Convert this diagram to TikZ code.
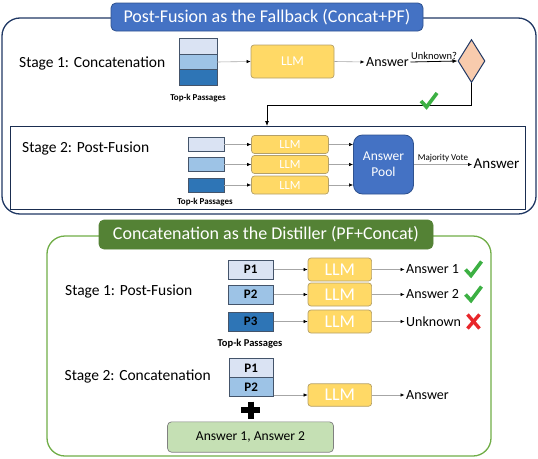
\documentclass[tikz,border=0pt]{standalone}
\usepackage{fontspec}
\setmainfont{Carlito}
\usetikzlibrary{positioning, shapes.geometric, arrows.meta}

\definecolor{navy}{HTML}{203864}
\definecolor{titleblue}{HTML}{4472C4}
\definecolor{bannerline}{HTML}{2F528F}
\definecolor{psgline}{HTML}{44546A}
\definecolor{psglight}{HTML}{DAE3F3}
\definecolor{psgmid}{HTML}{9DC3E6}
\definecolor{psgdark}{HTML}{2E75B6}
\definecolor{llmfill}{HTML}{FFD966}
\definecolor{llmline}{HTML}{B4A068}
\definecolor{peach}{HTML}{F8CBAD}
\definecolor{bannergreen}{HTML}{548235}
\definecolor{leafgreen}{HTML}{70AD47}
\definecolor{palegreen}{HTML}{C5E0B4}
\definecolor{checkgreen}{HTML}{3CB043}
\definecolor{crossred}{HTML}{E8262A}

\begin{document}
\begin{tikzpicture}[
    x=1pt, y=-1pt,
    frame/.style={draw=navy, line width=1.3pt, rounded corners=18pt, inner sep=0pt},
    banner/.style={draw=bannerline, fill=titleblue, text=white, line width=0.8pt, rounded corners=5pt, inner sep=0pt, font=\fontsize{18}{20}\selectfont},
    stagelbl/.style={anchor=west, inner sep=0pt, font=\fontsize{15.5}{18}\selectfont},
    psg/.style={draw=psgline, line width=0.7pt, inner sep=0pt, outer sep=0pt, minimum width=38pt, minimum height=15.5pt},
    llm/.style={draw=llmline, fill=llmfill, text=white, line width=0.7pt, rounded corners=3pt, inner sep=0pt},
    pool/.style={draw=bannerline, fill=titleblue, text=white, line width=0.8pt, rounded corners=9pt, inner sep=0pt, align=center, font=\fontsize{13.5}{16}\selectfont},
    ans/.style={anchor=west, inner sep=1.5pt, font=\fontsize{14}{16}\selectfont},
    small/.style={inner sep=0pt, font=\bfseries\fontsize{9}{10}\selectfont},
    arrow/.style={draw=gray!70, line width=0.6pt, -{Latex[length=4pt, width=3.5pt, black]}},
    blackarrow/.style={line width=0.8pt, -{Latex[length=5pt, width=4pt]}},
    okmark/.pic={\draw[checkgreen, line width=3.6pt] (-8,0) -- (-2.5,6) -- (8,-8);},
    nomark/.pic={\draw[crossred, line width=3.4pt] (-6,-7) -- (6,7) (-6,7) -- (6,-7);},
    addmark/.pic={\draw[black, line width=6pt] (-9.5,0) -- (9.5,0) (0,-8.5) -- (0,8.5);}
]
    \useasboundingbox (0,0) rectangle (538,458);

    % ==========================================
    % PART 1: Post-Fusion as the Fallback
    % ==========================================
    \begin{scope}[local bounding box=fallback_part]
        \node[frame, minimum width=534pt, minimum height=196pt] (fallback) at (269,116) {};
        \node[banner, minimum width=312pt, minimum height=28pt] (fb_title) at (267,17) {Post-Fusion as the Fallback (Concat+PF)};

        % --- Stage 1: concatenated passages into one LLM ---
        \node[stagelbl] (fb_s1) at (19,63) {Stage 1: Concatenation};
        \node[psg, fill=psglight] (tp1) at (198,46.5) {};
        \node[psg, fill=psgmid, below=0pt of tp1] (tp2) {};
        \node[psg, fill=psgdark, below=0pt of tp2] (tp3) {};
        \node[small] (tpk1) at (198,98) {Top-k Passages};

        \node[llm, minimum width=83pt, minimum height=33pt, font=\fontsize{13.5}{15}\selectfont] (t_llm) at (292.5,61.5) {LLM};
        \draw[arrow] (tp2.east) -- (t_llm.west);

        \node[ans] (t_ans) at (364.5,62) {Answer};
        \draw[arrow] (t_llm.east) -- (t_ans.west);

        % Unknown answer goes to the check
        \node[diamond, draw=navy, fill=peach, line width=1pt, minimum width=27pt, minimum height=43pt, inner sep=0pt] (dia) at (471.5,61) {};
        \draw[blackarrow] (t_ans.east) -- node[above, inner sep=1.5pt, font=\fontsize{10.5}{12}\selectfont] (unk) {Unknown?} (dia.west);

        % --- Fall back into Stage 2 ---
        \node[draw=navy!80!black, line width=0.9pt, minimum width=515pt, minimum height=83pt, inner sep=0pt] (pf_box) at (267.5,168) {};
        \coordinate (fb_turn) at (267,105);
        \draw[line width=0.8pt, -{Latex[length=5pt, width=4pt]}] (dia.south) |- (fb_turn) -- (fb_turn |- pf_box.north);
        \pic at (429,101) {okmark};

        % --- Stage 2: one LLM per passage ---
        \node[stagelbl] (fb_s2) at (22,148) {Stage 2: Post-Fusion};
        \node[pool, minimum width=60pt, minimum height=59pt] (pool) at (383.5,164.5) {Answer\\Pool};
        \foreach \y/\c [count=\i] in {144.5/psglight, 164.5/psgmid, 185/psgdark} {
            \node[psg, fill=\c, minimum width=36pt, minimum height=14pt] (pp\i) at (206,\y) {};
            \node[llm, minimum width=77pt, minimum height=18pt, font=\fontsize{12.5}{14}\selectfont] (pl\i) at (290,\y) {LLM};
            \draw[arrow] (pp\i) -- (pl\i);
            \draw[arrow] (pl\i.east) -- (pl\i.east -| pool.west);
        }
        \node[small] (tpk2) at (205,202.6) {Top-k Passages};

        \node[ans, font=\fontsize{15}{17}\selectfont] (p_ans) at (472,163.5) {Answer};
        \draw[arrow] (pool.east) -- node[above, inner sep=2pt, font=\fontsize{9}{10}\selectfont] (vote) {Majority Vote} (pool.east -| p_ans.west);
    \end{scope}

    % ==========================================
    % PART 2: Concatenation as the Distiller
    % ==========================================
    \begin{scope}[local bounding box=distill_part]
        \node[frame, draw=leafgreen, minimum width=444pt, minimum height=220pt] (distill) at (269,346) {};
        \node[banner, draw=bannergreen, fill=bannergreen, minimum width=334pt, minimum height=29pt] (d_title) at (266,234.5) {Concatenation as the Distiller (PF+Concat)};

        % --- Stage 1: each passage on its own ---
        \node[stagelbl] (d_s1) at (65,291) {Stage 1: Post-Fusion};
        \foreach \y/\c/\lbl [count=\i] in {269.5/psglight/Answer 1, 294.5/psgmid/Answer 2, 321.5/psgdark/Unknown} {
            \node[psg, fill=\c, minimum width=45.5pt, minimum height=19pt, font=\bfseries\fontsize{13}{15}\selectfont] (dp\i) at (250.75,\y) {P\i};
            \node[llm, minimum width=63.6pt, minimum height=23pt, font=\fontsize{18}{20}\selectfont] (dl\i) at (339.8,\y) {LLM};
            \node[ans] (da\i) at (404.5,\y) {\lbl};
            \draw[arrow] (dp\i) -- (dl\i);
            \draw[arrow] (dl\i) -- (da\i);
        }
        \pic at (473.5,269.5) {okmark};
        \pic at (473.5,294.5) {okmark};
        \pic at (473.5,321.5) {nomark};
        \node[small, font=\bfseries\fontsize{10.5}{12}\selectfont] (tpk3) at (250,343.7) {Top-k Passages};

        % --- Stage 2: kept passages plus their answers ---
        \node[stagelbl] (d_s2) at (64.5,376) {Stage 2: Concatenation};
        \node[psg, fill=psglight, minimum width=44.5pt, minimum height=19.8pt, font=\bfseries\fontsize{13}{15}\selectfont] (cp1) at (251.25,367.9) {P1};
        \node[psg, fill=psgmid, minimum width=44.5pt, minimum height=18.3pt, font=\bfseries\fontsize{13}{15}\selectfont, below=0pt of cp1] (cp2) {P2};
        \pic at (250.5,410) {addmark};
        \node[draw=gray, fill=palegreen, line width=0.7pt, rounded corners=4pt, minimum width=166pt, minimum height=30.3pt, font=\fontsize{13.6}{16}\selectfont] (memo) at (250.5,437) {Answer 1, Answer 2};

        \node[llm, minimum width=63.6pt, minimum height=22.5pt, font=\fontsize{18}{20}\selectfont] (c_llm) at (339.8,395) {LLM};
        \draw[arrow] (cp2.east |- c_llm.west) -- (c_llm.west);
        \node[ans] (c_ans) at (404.5,395) {Answer};
        \draw[arrow] (c_llm) -- (c_ans);
    \end{scope}

\end{tikzpicture}
\end{document}
